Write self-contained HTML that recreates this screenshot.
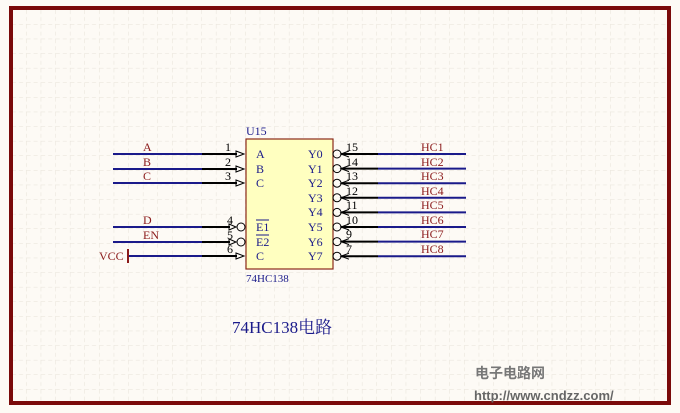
<!DOCTYPE html>
<html><head><meta charset="utf-8"><style>
body{margin:0;background:#fdfaf5;}
svg{display:block}
</style></head><body>
<svg width="680" height="413" viewBox="0 0 680 413" xmlns="http://www.w3.org/2000/svg" font-family="Liberation Serif, serif">
<defs>
<pattern id="g" width="14.6" height="14.6" patternUnits="userSpaceOnUse" x="12" y="10">
<path d="M14.6 0V14.6M0 14.6H14.6" stroke="#e6e1d8" stroke-width="1" stroke-dasharray="4 3" fill="none"/>
</pattern>
</defs>
<rect width="680" height="413" fill="#fdfaf5"/>
<rect x="11" y="8" width="658" height="395" fill="url(#g)"/>
<rect x="11" y="8" width="658" height="395" fill="none" stroke="#7a0a0a" stroke-width="4"/>
<!-- chip -->
<rect x="246" y="139" width="87" height="130" fill="#ffffc0" stroke="#8b2a1a" stroke-width="1.2"/>
<text x="246" y="135" font-size="12" fill="#1a1a8a">U15</text>
<text x="246" y="282" font-size="11" fill="#1a1a8a">74HC138</text>
<g font-size="12" fill="#1a1a8a">
<text x="256" y="158">A</text><text x="256" y="173">B</text><text x="256" y="187">C</text>
<text x="256" y="231">E1</text><text x="256" y="246">E2</text><text x="256" y="260">C</text>
<line x1="256" y1="220" x2="269" y2="220" stroke="#1a1a8a"/>
<line x1="256" y1="235" x2="269" y2="235" stroke="#1a1a8a"/>
<text x="308" y="158">Y0</text><text x="308" y="173">Y1</text><text x="308" y="187">Y2</text><text x="308" y="202">Y3</text>
<text x="308" y="216">Y4</text><text x="308" y="231">Y5</text><text x="308" y="246">Y6</text><text x="308" y="260">Y7</text>
</g>
<!-- left pins -->
<g stroke-width="2">
<line x1="113" y1="154" x2="202" y2="154" stroke="#1a1a8a"/><line x1="202" y1="154" x2="237" y2="154" stroke="#000"/>
<line x1="113" y1="169" x2="202" y2="169" stroke="#1a1a8a"/><line x1="202" y1="169" x2="237" y2="169" stroke="#000"/>
<line x1="113" y1="183" x2="202" y2="183" stroke="#1a1a8a"/><line x1="202" y1="183" x2="237" y2="183" stroke="#000"/>
<line x1="113" y1="227" x2="202" y2="227" stroke="#1a1a8a"/><line x1="202" y1="227" x2="230" y2="227" stroke="#000"/>
<line x1="113" y1="242" x2="202" y2="242" stroke="#1a1a8a"/><line x1="202" y1="242" x2="230" y2="242" stroke="#000"/>
<line x1="128" y1="256" x2="202" y2="256" stroke="#1a1a8a"/><line x1="202" y1="256" x2="237" y2="256" stroke="#000"/>
<line x1="128" y1="249" x2="128" y2="263" stroke="#8b1a1a"/>
</g>
<g fill="none" stroke="#000" stroke-width="1">
<path d="M236 151L244 154L236 157Z"/><path d="M236 166L244 169L236 172Z"/><path d="M236 180L244 183L236 186Z"/><path d="M236 253L244 256L236 259Z"/>
<path d="M229 224L236 227L229 230Z"/><circle cx="241" cy="227" r="4"/>
<path d="M229 239L236 242L229 245Z"/><circle cx="241" cy="242" r="4"/>
</g>
<g font-size="12" fill="#000">
<text x="225" y="151">1</text><text x="225" y="166">2</text><text x="225" y="180">3</text>
<text x="227" y="224">4</text><text x="227" y="239">5</text><text x="227" y="253">6</text>
</g>
<g font-size="12" fill="#8b1a1a">
<text x="143" y="151">A</text><text x="143" y="166">B</text><text x="143" y="180">C</text>
<text x="143" y="224">D</text><text x="143" y="239">EN</text><text x="99" y="260">VCC</text>
</g>
<!-- right pins -->
<g>
<g id="r">
<circle cx="337" cy="154" r="4" fill="none" stroke="#000"/>
<path d="M349 151L341 154L349 157" fill="none" stroke="#000"/>
<line x1="341" y1="154" x2="378" y2="154" stroke="#000" stroke-width="2"/>
<line x1="378" y1="154" x2="466" y2="154" stroke="#1a1a8a" stroke-width="2"/>
</g>
<use href="#r" y="14.6"/><use href="#r" y="29.2"/><use href="#r" y="43.8"/><use href="#r" y="58.4"/>
<use href="#r" y="73"/><use href="#r" y="87.6"/><use href="#r" y="102.2"/>
</g>
<g font-size="12" fill="#000">
<text x="346" y="151">15</text><text x="346" y="166">14</text><text x="346" y="180">13</text><text x="346" y="195">12</text>
<text x="346" y="209">11</text><text x="346" y="224">10</text><text x="346" y="238">9</text><text x="346" y="253">7</text>
</g>
<g font-size="12" fill="#8b1a1a">
<text x="421" y="151">HC1</text><text x="421" y="166">HC2</text><text x="421" y="180">HC3</text><text x="421" y="195">HC4</text>
<text x="421" y="209">HC5</text><text x="421" y="224">HC6</text><text x="421" y="238">HC7</text><text x="421" y="253">HC8</text>
</g>
<text x="232" y="333" font-size="17" fill="#1a1a8a" font-family="Liberation Serif, Noto Serif CJK SC, serif">74HC138电路</text>
<text x="475" y="378" font-size="14" font-weight="bold" fill="#777" font-family="Liberation Sans, Noto Sans CJK SC, sans-serif">电子电路网</text>
<text x="474" y="400" font-size="13" font-weight="bold" fill="#666" font-family="Liberation Sans, sans-serif">http://www.cndzz.com/</text>
</svg>
</body></html>
